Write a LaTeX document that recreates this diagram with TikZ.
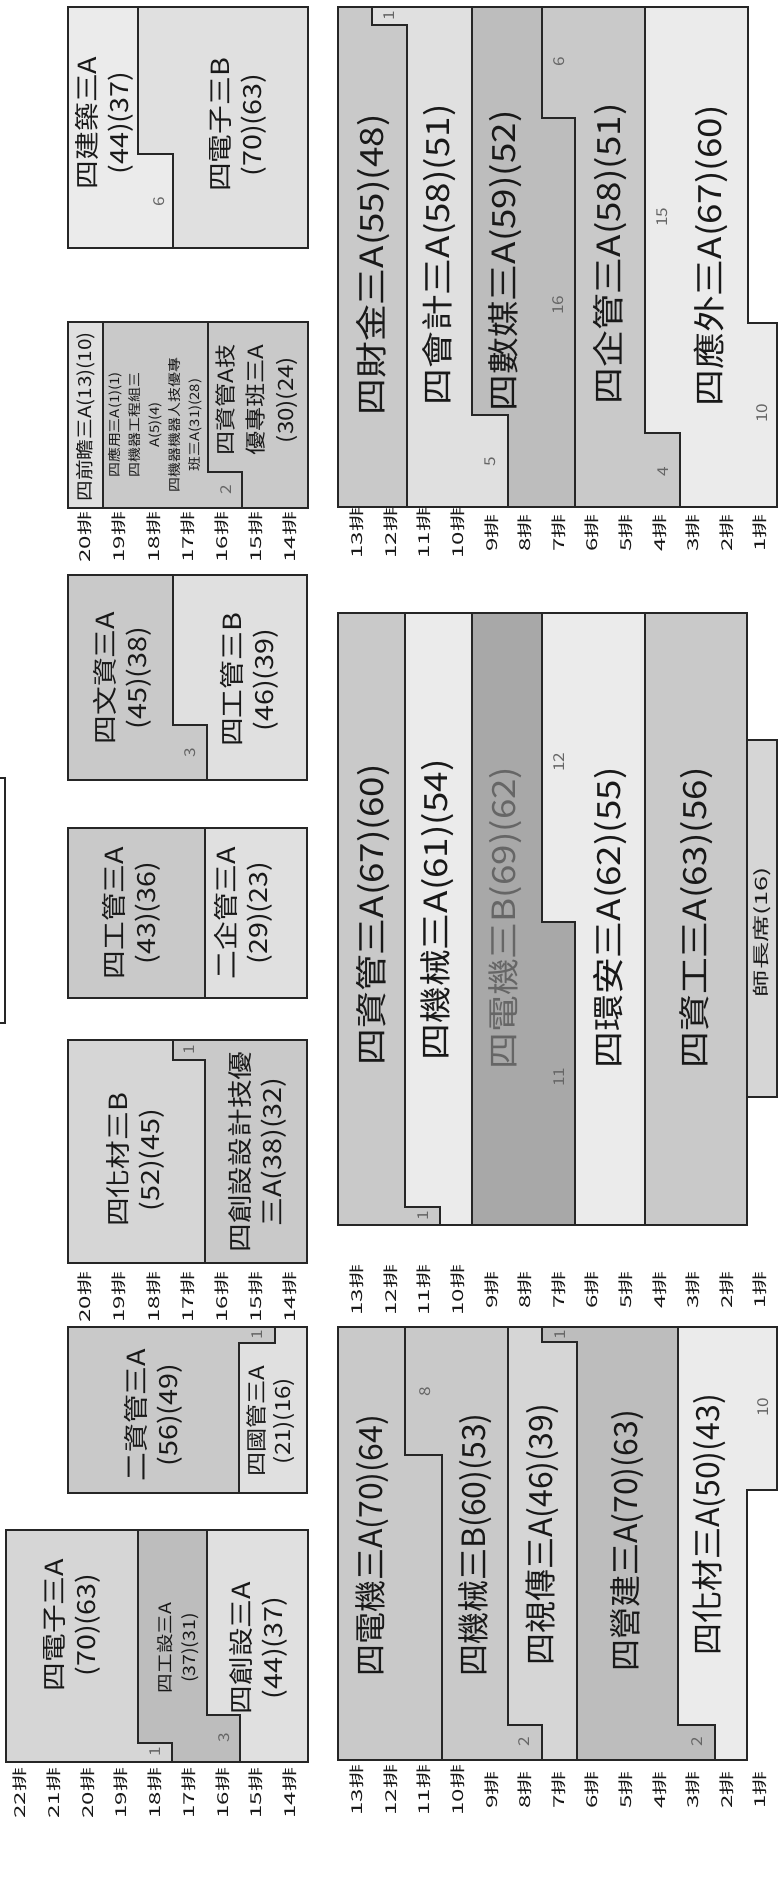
\documentclass[tikz,border=0pt]{standalone}
\usepackage{fontspec}
\setmainfont{Noto Sans CJK TC}
\newfontfamily\cjkwide[FakeStretch=1.15]{Noto Sans CJK TC}
\newfontfamily\cjkrow[FakeStretch=1.6]{Noto Sans CJK TC}
\usetikzlibrary{positioning}

\colorlet{edge}{black!85}
\colorlet{ink}{black!90}
\colorlet{numgray}{black!60}
\colorlet{pale}{black!8}
\colorlet{light}{black!12}
\colorlet{soft}{black!16}
\colorlet{mid}{black!21}
\colorlet{deep}{black!26}
\colorlet{dark}{black!34}

\begin{document}
\begin{tikzpicture}[
    x=1pt, y=-1pt,
    wall/.style={draw=edge, line width=2.6pt, line join=miter},
    hall/.style={rotate=90, inner sep=0pt, text=ink, font=\cjkwide\fontsize{32}{36}\selectfont},
    hallnarrow/.style={rotate=90, inner sep=0pt, text=ink, font=\fontsize{32}{36}\selectfont},
    pair/.style={rotate=90, inner sep=0pt, align=center, text=ink, font=\cjkwide\fontsize{25}{32}\selectfont},
    trio/.style={rotate=90, inner sep=0pt, align=center, text=ink, font=\cjkwide\fontsize{21}{30}\selectfont},
    slim/.style={rotate=90, inner sep=0pt, text=ink, font=\cjkwide\fontsize{18}{20}\selectfont},
    smallprint/.style={rotate=90, inner sep=0pt, align=center, text=ink, font=\cjkwide\fontsize{13}{20}\selectfont},
    seats/.style={rotate=90, inner sep=0pt, text=numgray, font=\cjkwide\fontsize{15}{15}\selectfont},
    rowtag/.style={rotate=90, inner sep=0pt, text=ink, font=\cjkrow\fontsize{15}{15}\selectfont},
]
\fill[white] (0,0) rectangle (779,1887);
\useasboundingbox (0,0) rectangle (779,1887);

% ── Stage edge ──
\draw[wall, line width=2pt] (-20,778) -- (5,778) -- (5,1023) -- (-20,1023);

% ── Rows 20-14: 四建築 / 四電子B ──
\fill[pale] (68,7) rectangle (308,248);
\fill[light] (138,7) -- (308,7) -- (308,248) -- (173,248) -- (173,154) -- (138,154) -- cycle;
\draw[wall] (138,7) -- (138,154) -- (173,154) -- (173,248);
\draw[wall] (68,7) rectangle (308,248);
\node[pair] (jianzhu) at (104,123) {四建築三A\\(44)(37)};
\node[seats] (jianzhu-n) at (159,202) {6};
\node[pair] (dianzib) at (238,125) {四電子三B\\(70)(63)};

% ── Rows 20-14: 四前瞻 / 四應用 / 四資管技優 ──
\fill[mid] (68,322) rectangle (308,508);
\fill[light] (68,322) rectangle (103,508);
\draw[wall] (103,322) -- (103,508);
\draw[wall] (208,322) -- (208,472) -- (242,472) -- (242,508);
\draw[wall] (68,322) rectangle (308,508);
\node[slim] (qianzhan) at (86,417) {四前瞻三A(13)(10)};
\node[smallprint] (yingyong) at (155,425) {四應用三A(1)(1)\\四機器工程組三\\A(5)(4)\\四機器機器人技優專\\班三A(31)(28)};
\node[seats] (yingyong-n) at (226,490) {2};
\node[trio] (ziguanji) at (257,400) {四資管A技\\優專班三A\\(30)(24)};
\foreach \row in {20,19,...,14} \node[rowtag] (upL-\row) at ({85+(20-\row)*34.2},537) {\row{}排};

% ── Rows 20-14: 四文資 / 四工管B ──
\fill[light] (68,575) rectangle (307,780);
\fill[mid] (68,575) -- (173,575) -- (173,725) -- (207,725) -- (207,780) -- (68,780) -- cycle;
\draw[wall] (173,575) -- (173,725) -- (207,725) -- (207,780);
\draw[wall] (68,575) rectangle (307,780);
\node[pair] (wenzi) at (122,678) {四文資三A\\(45)(38)};
\node[seats] (wenzi-n) at (190,753) {3};
\node[pair] (gongguanb) at (249,680) {四工管三B\\(46)(39)};

% ── Rows 20-14: 四工管A / 二企管 ──
\fill[mid] (68,828) rectangle (205,998);
\fill[light] (205,828) rectangle (307,998);
\draw[wall] (205,828) -- (205,998);
\draw[wall] (68,828) rectangle (307,998);
\node[pair] (gongguana) at (131,913) {四工管三A\\(43)(36)};
\node[pair] (qiguan) at (243,913) {二企管三A\\(29)(23)};

% ── Rows 20-14: 四化材B / 四創設設計技優 ──
\fill[mid] (68,1040) rectangle (307,1263);
\fill[soft] (68,1040) -- (173,1040) -- (173,1060) -- (205,1060) -- (205,1263) -- (68,1263) -- cycle;
\draw[wall] (173,1040) -- (173,1060) -- (205,1060) -- (205,1263);
\draw[wall] (68,1040) rectangle (307,1263);
\node[seats] (chuangji-n) at (189,1050) {1};
\node[pair] (huacaib) at (135,1160) {四化材三B\\(52)(45)};
\node[pair] (chuangji) at (257,1152) {四創設設計技優\\三A(38)(32)};
\foreach \row in {20,19,...,14} \node[rowtag] (midL-\row) at ({85+(20-\row)*34.2},1297) {\row{}排};

% ── Rows 20-14: 二資管 / 四國管 ──
\fill[light] (68,1327) rectangle (307,1493);
\fill[mid] (68,1327) -- (275,1327) -- (275,1343) -- (239,1343) -- (239,1493) -- (68,1493) -- cycle;
\draw[wall] (275,1327) -- (275,1343) -- (239,1343) -- (239,1493);
\draw[wall] (68,1327) rectangle (307,1493);
\node[seats] (ziguan-n) at (257,1335) {1};
\node[pair] (ziguan) at (153,1415) {二資管三A\\(56)(49)};
\node[pair, font=\cjkwide\fontsize{21}{26}\selectfont] (guoguan) at (271,1421) {四國管三A\\(21)(16)};

% ── Rows 22-14: 四電子A / 四工設 / 四創設 ──
\fill[light] (6,1530) rectangle (308,1762);
\fill[soft] (6,1530) -- (138,1530) -- (138,1743) -- (172,1743) -- (172,1762) -- (6,1762) -- cycle;
\fill[deep] (138,1530) -- (207,1530) -- (207,1715) -- (240,1715) -- (240,1762) -- (172,1762) -- (172,1743) -- (138,1743) -- cycle;
\draw[wall] (138,1530) -- (138,1743) -- (172,1743) -- (172,1762);
\draw[wall] (207,1530) -- (207,1715) -- (240,1715) -- (240,1762);
\draw[wall] (6,1530) rectangle (308,1762);
\node[seats] (dianzia-n) at (155,1752) {1};
\node[seats] (gongshe-n) at (224,1738) {3};
\node[pair] (dianzia) at (72,1625) {四電子三A\\(70)(63)};
\node[pair, font=\cjkwide\fontsize{17}{24}\selectfont] (gongshe) at (178,1648) {四工設三A\\(37)(31)};
\node[pair] (chuangshe) at (258,1648) {四創設三A\\(44)(37)};
\foreach \row in {22,21,...,14} \node[rowtag] (lowL-\row) at ({20+(22-\row)*33.75},1793) {\row{}排};

% ── Rows 13-1: 四財金 ... 四應外 ──
\fill[mid] (338,7) rectangle (407,507);
\fill[light] (372,7) -- (472,7) -- (472,415) -- (508,415) -- (508,507) -- (407,507) -- (407,25) -- (372,25) -- cycle;
\fill[deep] (472,7) -- (542,7) -- (542,118) -- (575,118) -- (575,507) -- (508,507) -- (508,415) -- (472,415) -- cycle;
\fill[mid] (542,7) -- (645,7) -- (645,433) -- (680,433) -- (680,507) -- (575,507) -- (575,118) -- (542,118) -- cycle;
\fill[pale] (645,7) -- (748,7) -- (748,323) -- (777,323) -- (777,507) -- (680,507) -- (680,433) -- (645,433) -- cycle;
\draw[wall] (372,7) -- (372,25) -- (407,25) -- (407,507);
\draw[wall] (472,7) -- (472,415) -- (508,415) -- (508,507);
\draw[wall] (542,7) -- (542,118) -- (575,118) -- (575,507);
\draw[wall] (645,7) -- (645,433) -- (680,433) -- (680,507);
\draw[wall] (338,7) -- (748,7) -- (748,323) -- (777,323) -- (777,507) -- (338,507) -- cycle;
\node[seats] (kuaiji-n1) at (389,16) {1};
\node[seats] (kuaiji-n5) at (490,462) {5};
\node[seats] (qiguanA-n6) at (559,62) {6};
\node[seats] (shumei-n) at (558,305) {16};
\node[seats] (qiguanA-n4) at (663,472) {4};
\node[seats] (yingwai-n15) at (662,217) {15};
\node[seats] (yingwai-n10) at (762,413) {10};
\node[hall] (caijin) at (373,265) {四財金三A(55)(48)};
\node[hall] (kuaiji) at (439,255) {四會計三A(58)(51)};
\node[hall] (shumei) at (505,261) {四數媒三A(59)(52)};
\node[hall] (qiguanA) at (610,254) {四企管三A(58)(51)};
\node[hall] (yingwai) at (711,256) {四應外三A(67)(60)};
\foreach \row in {13,12,...,1} \node[rowtag] (upR-\row) at ({357+(13-\row)*33.6},533) {\row{}排};

% ── Rows 13-1: 四資管 ... 四資工 ──
\fill[pale] (338,613) rectangle (747,1225);
\fill[mid] (338,613) -- (405,613) -- (405,1207) -- (440,1207) -- (440,1225) -- (338,1225) -- cycle;
\fill[dark] (472,613) -- (542,613) -- (542,922) -- (575,922) -- (575,1225) -- (472,1225) -- cycle;
\fill[mid] (645,613) rectangle (747,1225);
\draw[wall] (405,613) -- (405,1207) -- (440,1207) -- (440,1225);
\draw[wall] (472,613) -- (472,1225);
\draw[wall] (542,613) -- (542,922) -- (575,922) -- (575,1225);
\draw[wall] (645,613) -- (645,1225);
\draw[wall] (338,613) rectangle (747,1225);
\fill[soft] (747,740) rectangle (777,1097);
\draw[wall] (747,740) rectangle (777,1097);
\node[rotate=90, inner sep=0pt, text=ink, font=\cjkrow\fontsize{17}{17}\selectfont] (teacher) at (762,932) {師長席(16)};
\node[seats] (ziguanA-n) at (423,1216) {1};
\node[seats] (huanan-n) at (559,762) {12};
\node[seats] (dianjib-n) at (559,1077) {11};
\node[hall] (ziguanA) at (373,915) {四資管三A(67)(60)};
\node[hall] (jixiea) at (437,910) {四機械三A(61)(54)};
\node[hall, text=black!60] (dianjib) at (505,918) {四電機三B(69)(62)};
\node[hall] (huanan) at (610,918) {四環安三A(62)(55)};
\node[hall] (zigong) at (696,918) {四資工三A(63)(56)};
\foreach \row in {13,12,...,1} \node[rowtag] (midR-\row) at ({357+(13-\row)*33.6},1290) {\row{}排};

% ── Rows 13-1: 四電機A ... 四化材A ──
\fill[mid] (338,1327) -- (777,1327) -- (777,1490) -- (747,1490) -- (747,1760) -- (338,1760) -- cycle;
\fill[soft] (508,1327) -- (542,1327) -- (542,1342) -- (577,1342) -- (577,1760) -- (542,1760) -- (542,1725) -- (508,1725) -- cycle;
\fill[deep] (542,1327) -- (678,1327) -- (678,1725) -- (715,1725) -- (715,1760) -- (577,1760) -- (577,1342) -- (542,1342) -- cycle;
\fill[pale] (678,1327) -- (777,1327) -- (777,1490) -- (747,1490) -- (747,1760) -- (715,1760) -- (715,1725) -- (678,1725) -- cycle;
\draw[wall] (405,1327) -- (405,1455) -- (442,1455) -- (442,1760);
\draw[wall] (508,1327) -- (508,1725) -- (542,1725) -- (542,1760);
\draw[wall] (542,1327) -- (542,1342) -- (577,1342) -- (577,1760);
\draw[wall] (678,1327) -- (678,1725) -- (715,1725) -- (715,1760);
\draw[wall] (338,1327) -- (777,1327) -- (777,1490) -- (747,1490) -- (747,1760) -- (338,1760) -- cycle;
\node[seats] (jixieb-n8) at (425,1392) {8};
\node[seats] (jixieb-n2) at (524,1742) {2};
\node[seats] (shichuan-n) at (560,1335) {1};
\node[seats] (yingjian-n) at (697,1742) {2};
\node[seats] (huacaia-n) at (763,1407) {10};
\node[hallnarrow] (dianjia) at (372,1546) {四電機三A(70)(64)};
\node[hallnarrow] (jixieb) at (475,1545) {四機械三B(60)(53)};
\node[hallnarrow] (shichuan) at (542,1535) {四視傳三A(46)(39)};
\node[hallnarrow] (yingjian) at (627,1541) {四營建三A(70)(63)};
\node[hallnarrow] (huacaia) at (709,1525) {四化材三A(50)(43)};
\foreach \row in {13,12,...,1} \node[rowtag] (lowR-\row) at ({357+(13-\row)*33.6},1790) {\row{}排};

\end{tikzpicture}
\end{document}
